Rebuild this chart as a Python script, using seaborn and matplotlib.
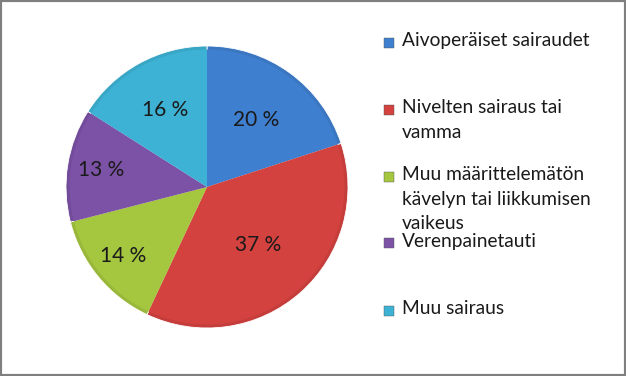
import matplotlib.pyplot as plt
import seaborn as sns
from matplotlib.patches import Rectangle
import numpy as np

sns.set_theme(style="white")
plt.rcParams['font.family'] = ['Lato', 'DejaVu Sans']

# data
categories = ["Aivoperäiset sairaudet",
              "Nivelten sairaus tai\nvamma",
              "Muu määrittelemätön\nkävelyn tai liikkumisen\nvaikeus",
              "Verenpainetauti",
              "Muu sairaus"]
shares = [20, 37, 14, 13, 16]
colors = ["#3f7fcf", "#d4423f", "#a5c63f", "#7b52a6", "#3db2d4"]

# label distance from centre, per slice (fraction of radius)
label_r = [0.59, 0.55, 0.77, 0.76, 0.62]

fig = plt.figure(figsize=(6.26, 3.76), dpi=100)
fig.patch.set_facecolor("white")

ax = fig.add_axes([66 / 626, 48 / 376, 282 / 626, 282 / 376])
wedges, _ = ax.pie(shares, colors=colors, startangle=90, counterclock=False,
                   wedgeprops=dict(edgecolor="white", linewidth=0.6))
# soft inner shading to hint the bevelled look
ax.pie(shares, colors=colors, startangle=90, counterclock=False, radius=0.975,
       wedgeprops=dict(edgecolor="none", linewidth=0))
for w in wedges:
    w.set_facecolor(tuple(c * 0.93 for c in w.get_facecolor()[:3]))
ax.set_xlim(-1, 1)
ax.set_ylim(-1, 1)
ax.set_aspect("equal")
ax.axis("off")

for w, v, r in zip(wedges, shares, label_r):
    mid = np.deg2rad((w.theta1 + w.theta2) / 2)
    ax.text(r * np.cos(mid), r * np.sin(mid), f"{v} %", ha="center", va="center",
            fontsize=15, color="#1a1a1a")

# legend, laid out like the spreadsheet original
y0 = 1 - 42 / 376
step = 67 / 376
for i, (lab, col) in enumerate(zip(categories, colors)):
    y = y0 - i * step
    fig.patches.append(Rectangle((384 / 626, y - 5.5 / 376), 10 / 626, 10 / 376,
                                 transform=fig.transFigure, facecolor=col,
                                 edgecolor="#555555", linewidth=0.3))
    fig.text(402 / 626, y + 10 / 376, lab, ha="left", va="top", fontsize=13.8,
             color="#1a1a1a", linespacing=1.55)

# outer frame
fig.patches.append(Rectangle((0, 0), 1, 1, transform=fig.transFigure, fill=False,
                             edgecolor="#7f7f7f", linewidth=3))

fig.savefig("out.png", dpi=100)
